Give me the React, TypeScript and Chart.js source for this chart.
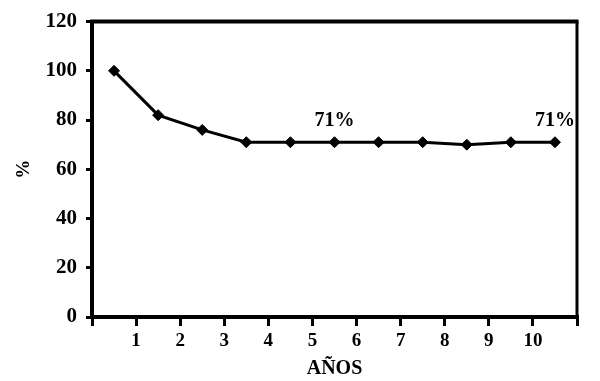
import { useEffect, useRef } from 'react';
import { Chart, registerables } from 'chart.js';

Chart.register(...registerables);

// Data
const years: number[] = [0.5, 1.5, 2.5, 3.5, 4.5, 5.5, 6.5, 7.5, 8.5, 9.5, 10.5];
const survival: number[] = [100, 82, 76, 71, 71, 71, 71, 71, 70, 71, 71];
const xTickLabels: string[] = ['', '1', '2', '3', '4', '5', '6', '7', '8', '9', '10', ''];
const annotatedIndexes: number[] = [5, 10];
const annotationTexts: string[] = ['71%', '71%'];
const xTitle = 'AÑOS';
const yTitle = '%';

const FONT = '"Liberation Serif", "Times New Roman", serif';

const framePlugin = {
  id: 'frameAndLabels',
  afterDraw(chart: any) {
    const { ctx, chartArea } = chart;
    const { left, top, right, bottom } = chartArea;
    ctx.save();
    ctx.strokeStyle = '#000';
    ctx.lineWidth = 4;
    ctx.beginPath();
    ctx.moveTo(left - 2, top);
    ctx.lineTo(right + 1.5, top);
    ctx.stroke();
    ctx.lineWidth = 3;
    ctx.beginPath();
    ctx.moveTo(right, top);
    ctx.lineTo(right, bottom);
    ctx.stroke();

    const meta = chart.getDatasetMeta(0);
    ctx.fillStyle = '#000';
    ctx.font = `bold 20px ${FONT}`;
    ctx.textAlign = 'center';
    ctx.textBaseline = 'middle';
    annotatedIndexes.forEach((idx, k) => {
      const pt = meta.data[idx];
      if (pt) ctx.fillText(annotationTexts[k], pt.x, pt.y - 21);
    });
    ctx.restore();
  },
};

export default function App() {
  const canvasRef = useRef<HTMLCanvasElement | null>(null);

  useEffect(() => {
    if (!canvasRef.current) return;
    const chart = new Chart(canvasRef.current, {
      type: 'line',
      data: {
        datasets: [
          {
            data: years.map((x, i) => ({ x, y: survival[i] })),
            borderColor: '#000',
            backgroundColor: '#000',
            borderWidth: 3,
            pointStyle: 'rectRot',
            pointRadius: 5.5,
            pointBorderWidth: 1,
            pointBackgroundColor: '#000',
            pointBorderColor: '#000',
            tension: 0,
          },
        ],
      },
      options: {
        animation: false,
        responsive: false,
        devicePixelRatio: 1,
        layout: { padding: { top: 19, right: 23, left: 0, bottom: 0 } },
        plugins: { legend: { display: false }, tooltip: { enabled: false } },
        scales: {
          x: {
            type: 'linear',
            min: 0,
            max: 11,
            afterFit: (scale: any) => {
              scale.height = 64;
            },
            afterBuildTicks: (scale: any) => {
              scale.ticks = xTickLabels.map((_, i) => ({ value: i }));
            },
            ticks: {
              stepSize: 1,
              autoSkip: false,
              maxRotation: 0,
              color: '#000',
              padding: 4,
              font: { family: FONT, size: 19, weight: 'bold' },
              callback: (v: any) => xTickLabels[Math.round(Number(v))] ?? '',
            },
            grid: {
              display: true,
              drawOnChartArea: false,
              drawTicks: true,
              tickLength: 9,
              lineWidth: 3,
              color: '#000',
            },
            border: { display: true, width: 4, color: '#000' },
            title: {
              display: true,
              text: xTitle,
              color: '#000',
              font: { family: FONT, size: 20, weight: 'bold' },
              padding: { top: 0, bottom: 0 },
            },
          },
          y: {
            type: 'linear',
            min: 0,
            max: 120,
            afterFit: (scale: any) => {
              scale.width = 92;
            },
            ticks: {
              stepSize: 20,
              color: '#000',
              padding: 9,
              font: { family: FONT, size: 21, weight: 'bold' },
            },
            grid: {
              display: true,
              drawOnChartArea: false,
              drawTicks: true,
              tickLength: 6,
              lineWidth: 3,
              color: '#000',
            },
            border: { display: true, width: 4, color: '#000' },
            title: {
              display: true,
              text: yTitle,
              color: '#000',
              font: { family: FONT, size: 19, weight: 'bold' },
              padding: { top: 13, bottom: 0 },
            },
          },
        },
      },
      plugins: [framePlugin],
    } as any);
    return () => chart.destroy();
  }, []);

  return (
    <div style={{ position: 'fixed', left: 0, top: 0, width: 600, height: 381, background: '#fff' }}>
      <canvas ref={canvasRef} width={600} height={381} style={{ width: 600, height: 381, display: 'block' }} />
    </div>
  );
}
